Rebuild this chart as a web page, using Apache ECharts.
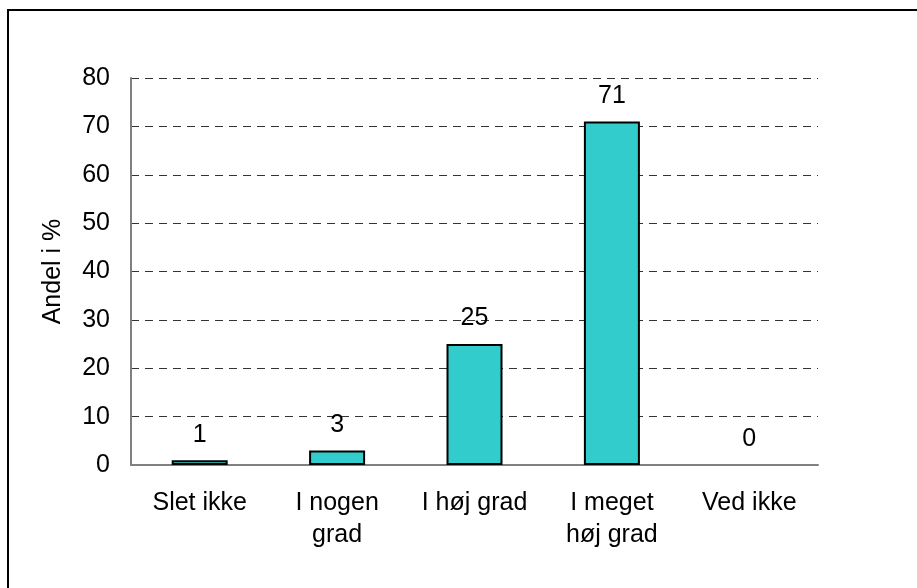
<!DOCTYPE html>
<html>
<head>
<meta charset="utf-8">
<script src="https://cdn.jsdelivr.net/npm/echarts@6/dist/echarts.min.js"></script>
<style>
  html, body { margin: 0; padding: 0; background: #fff; }
  #frame {
    position: absolute; left: 7px; top: 9px; width: 940px; height: 600px;
    border-left: 2px solid #000; border-top: 2px solid #000;
  }
  #chart { position: absolute; left: 0; top: 0; width: 917px; height: 588px; }
</style>
</head>
<body>
<div id="frame"></div>
<div id="chart"></div>
<script>
const categories = ['Slet ikke', 'I nogen\ngrad', 'I høj grad', 'I meget\nhøj grad', 'Ved ikke']
const values = [1, 3, 25, 71, 0]
const yTicks = { min: 0, max: 80, interval: 10 }

const myChart = echarts.init(document.getElementById('chart'))
const font = 'Liberation Sans, Arial, sans-serif'

// zero bars get no outline, like the original
const barData = values.map(v => v === 0 ? { value: v, itemStyle: { borderWidth: 0 } } : v)

const option = {
  animation: false,
  grid: { left: 131, top: 78, width: 687, height: 387 },
  xAxis: {
    type: 'category',
    data: categories,
    axisLine: { lineStyle: { color: '#808080', width: 2 } },
    axisTick: { show: false },
    axisLabel: {
      color: '#000', fontSize: 25, fontFamily: font,
      margin: 22, lineHeight: 32, interval: 0
    }
  },
  yAxis: {
    type: 'value',
    min: yTicks.min, max: yTicks.max, interval: yTicks.interval,
    name: 'Andel i %',
    nameLocation: 'middle',
    nameGap: 65,
    nameTextStyle: { color: '#000', fontSize: 25, fontFamily: font },
    axisLine: { show: true, lineStyle: { color: '#808080', width: 2 } },
    axisTick: { show: false },
    axisLabel: { color: '#000', fontSize: 25, fontFamily: font, margin: 21 },
    splitLine: { lineStyle: { color: '#333', type: [8, 6], width: 1 } }
  },
  series: [{
    type: 'bar',
    data: barData,
    barWidth: 56,
    itemStyle: { color: '#33CCCC', borderColor: '#000', borderWidth: 2 },
    label: {
      show: true, position: 'top', distance: 13,
      color: '#000', fontSize: 25, fontFamily: font
    }
  }]
}

myChart.setOption(option)
</script>
</body>
</html>
